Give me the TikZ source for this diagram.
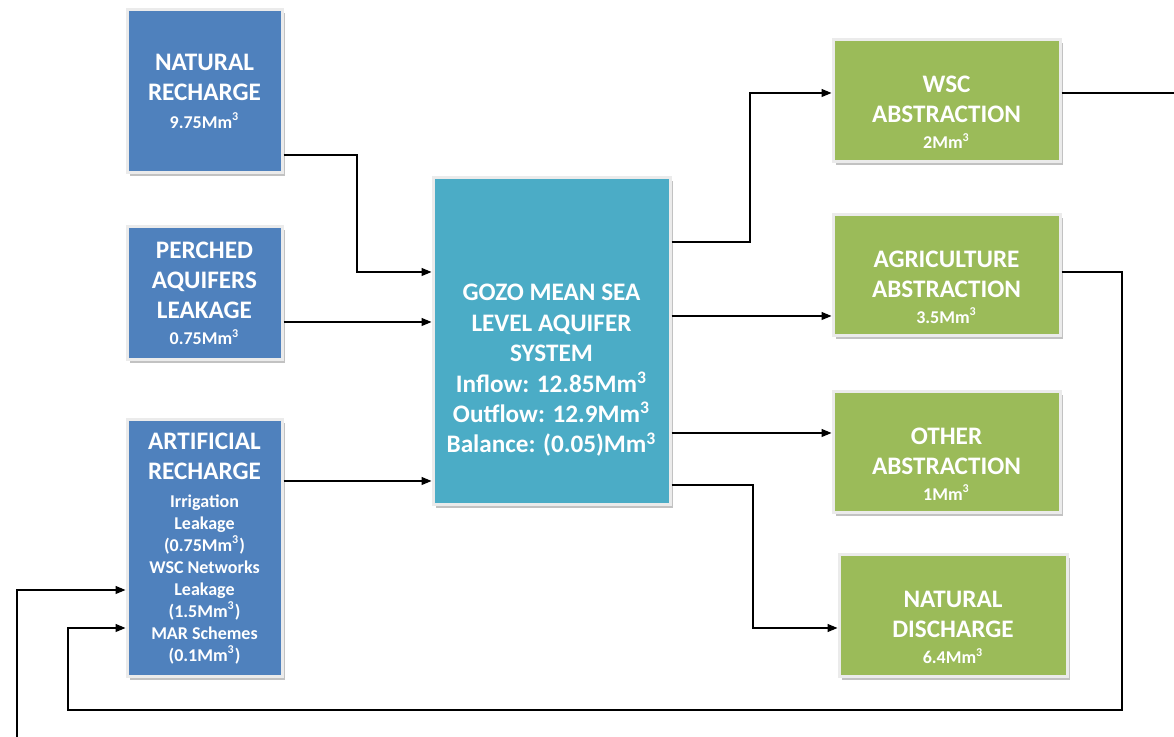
\documentclass[tikz,border=0pt]{standalone}
\usepackage{fontspec}
\setmainfont{Carlito}
\usetikzlibrary{arrows.meta,shadows}
\definecolor{rechblue}{HTML}{4F81BD}
\definecolor{aqteal}{HTML}{4BACC6}
\definecolor{absgreen}{HTML}{9BBB59}
\newcommand{\mcm}[1]{{\fontsize{9}{11}\selectfont #1Mm\textsuperscript{3}}}
\newcommand{\sml}[1]{{\fontsize{9}{11}\selectfont #1}}
\newcommand{\topgap}{\rule{0pt}{20pt}}

\begin{document}
\begin{tikzpicture}[x=0.5pt,y=-0.5pt,
  box/.style={draw=black!8,line width=1.5pt,text=white,align=center,inner sep=0pt,
    font=\bfseries\fontsize{12.6}{15}\selectfont,
    drop shadow={shadow xshift=1.5pt,shadow yshift=-1.5pt,fill=black!40,opacity=0.6}},
  flow/.style={line width=0.6pt,-{Triangle[length=5pt,width=4pt]}},
  link/.style={line width=0.6pt}]
  \useasboundingbox (0,0) rectangle (1174,737);
  % inflows
  \node[box,fill=rechblue,minimum width=77.5pt,minimum height=81.5pt] (nr) at (204.5,91.5) {NATURAL\\RECHARGE\\[-1pt]\mcm{9.75}};
  \node[box,fill=rechblue,minimum width=77.5pt,minimum height=66.5pt] (pa) at (204.5,293.5) {PERCHED\\AQUIFERS\\LEAKAGE\\[-2pt]\mcm{0.75}};
  \node[box,fill=rechblue,minimum width=77.5pt,minimum height=128.5pt] (ar) at (204.5,548.5) {ARTIFICIAL\\RECHARGE\\[-1pt]\sml{Irrigation}\\[-4pt]\sml{Leakage}\\[-4pt]\sml{(}\mcm{0.75}\sml{)}\\[-4pt]\sml{WSC Networks}\\[-4pt]\sml{Leakage}\\[-4pt]\sml{(}\mcm{1.5}\sml{)}\\[-4pt]\sml{MAR Schemes}\\[-4pt]\sml{(}\mcm{0.1}\sml{)}};
  % aquifer
  \node[box,fill=aqteal,minimum width=118.5pt,minimum height=163.5pt] (gozo) at (551.5,341.5) {};
  \node[text=white,align=center,font=\bfseries\fontsize{12.6}{15.2}\selectfont] (gozotext) at ([yshift=-14.5pt]gozo.center) {GOZO MEAN SEA\\LEVEL AQUIFER\\SYSTEM\\Inflow: 12.85Mm\textsuperscript{3}\\Outflow: 12.9Mm\textsuperscript{3}\\Balance: (0.05)Mm\textsuperscript{3}};
  % outflows
  \node[box,fill=absgreen,minimum width=113.5pt,minimum height=61pt] (wsc) at (946.5,101) {\topgap WSC\\ABSTRACTION\\[-2pt]\mcm{2}};
  \node[box,fill=absgreen,minimum width=113.5pt,minimum height=60.5pt] (agri) at (946.5,275.5) {\topgap AGRICULTURE\\ABSTRACTION\\[-2pt]\mcm{3.5}};
  \node[box,fill=absgreen,minimum width=113.5pt,minimum height=60.5pt] (other) at (946.5,452.5) {\topgap OTHER\\ABSTRACTION\\[-2pt]\mcm{1}};
  \node[box,fill=absgreen,minimum width=114pt,minimum height=61pt] (nd) at (953,616) {\topgap NATURAL\\DISCHARGE\\[-2pt]\mcm{6.4}};
  \coordinate (wscout) at (1174,93);
  \coordinate (inlet) at (17,737);
  % connectors
  \draw[flow] (nr.east |- 0,155) -| (357,272) -- (gozo.west |- 0,272);
  \draw[flow] (pa.east |- 0,322) -- (gozo.west |- 0,322);
  \draw[flow] (ar.east |- 0,481) -- (gozo.west |- 0,481);
  \draw[flow] (gozo.east |- 0,242) -| (750,93) -- (wsc.west |- 0,93);
  \draw[flow] (gozo.east |- 0,316) -- (agri.west |- 0,316);
  \draw[flow] (gozo.east |- 0,433) -- (other.west |- 0,433);
  \draw[flow] (gozo.east |- 0,485) -| (753,628) -- (nd.west |- 0,628);
  \draw[link] (wsc.east |- 0,93) -- (wscout);
  \draw[flow] (agri.east |- 0,272) -| (1122,710) -| (68,628) -- (ar.west |- 0,628);
  \draw[flow] (inlet) |- (ar.west |- 0,590);
\end{tikzpicture}
\end{document}
